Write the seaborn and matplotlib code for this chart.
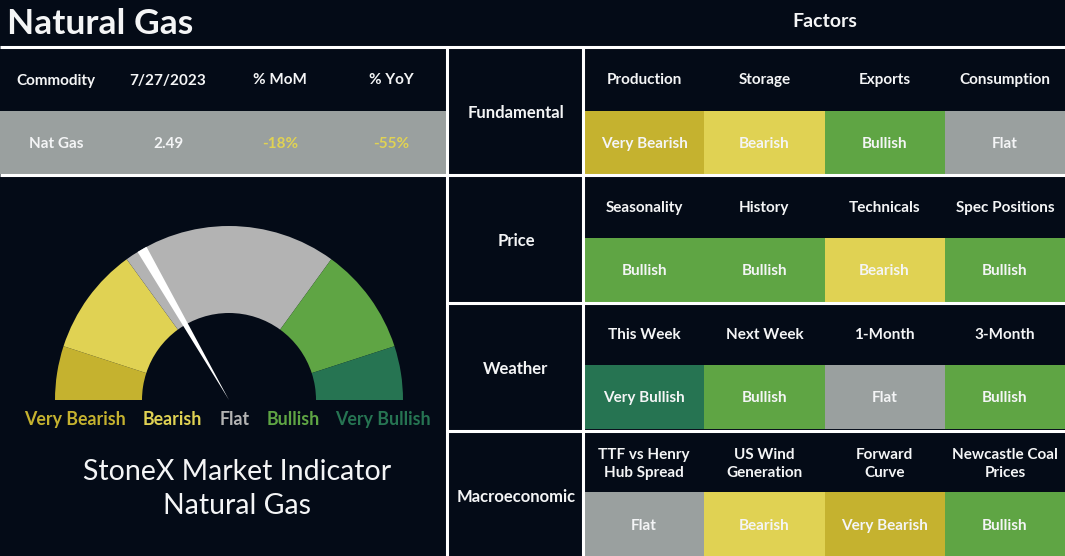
import numpy as np
import pandas as pd
import matplotlib
matplotlib.use("Agg")
import matplotlib.pyplot as plt
from matplotlib.colors import ListedColormap
from matplotlib.patches import Rectangle, Polygon
import seaborn as sns

# ---------------- data ----------------
title = "Natural Gas"
table_headers = ["Commodity", "7/27/2023", "% MoM", "% YoY"]
table_values = ["Nat Gas", "2.49", "-18%", "-55%"]

categories = ["Fundamental", "Price", "Weather", "Macroeconomic"]
factor_names = [
    ["Production", "Storage", "Exports", "Consumption"],
    ["Seasonality", "History", "Technicals", "Spec Positions"],
    ["This Week", "Next Week", "1-Month", "3-Month"],
    ["TTF vs Henry\nHub Spread", "US Wind\nGeneration", "Forward\nCurve", "Newcastle Coal\nPrices"],
]
factor_signals = [
    ["Very Bearish", "Bearish", "Bullish", "Flat"],
    ["Bullish", "Bullish", "Bearish", "Bullish"],
    ["Very Bullish", "Bullish", "Flat", "Bullish"],
    ["Flat", "Bearish", "Very Bearish", "Bullish"],
]
levels = ["Very Bearish", "Bearish", "Flat", "Bullish", "Very Bullish"]
gauge_sizes = [18, 36, 72, 36, 18]   # degrees of the half-circle per level
needle_deg = 60                       # needle position, degrees from the left end

# ---------------- style ----------------
BG = "#040b17"
WHITE = "#f4f5f6"
level_colors = ["#c5b22f", "#e0d253", "#9aa09f", "#5fa544", "#267452"]
gauge_colors = ["#c5b22f", "#e0d253", "#b3b3b3", "#5fa544", "#267452"]
label_colors = ["#c5b22f", "#e0d253", "#b3b3b3", "#5fa544", "#267452"]

sns.set_theme(style="dark", rc={"axes.facecolor": BG, "figure.facecolor": BG})
plt.rcParams["font.family"] = ["Lato", "DejaVu Sans"]

FS = 11.0      # cell text
FS_CAT = 12.0  # category labels

W, H = 1065, 556
fig = plt.figure(figsize=(W / 100, H / 100), dpi=100, facecolor=BG)

def px_axes(x0, y0, x1, y1):
    return fig.add_axes([x0 / W, (H - y1) / H, (x1 - x0) / W, (y1 - y0) / H])

# background axes
bg = px_axes(0, 0, W, H)
bg.set_xlim(0, W); bg.set_ylim(H, 0); bg.axis("off")
bg.set_facecolor(BG)
bg.add_patch(Rectangle((0, 0), W, H, color=BG, zorder=0))
# gray data row of the commodity table
bg.add_patch(Rectangle((0, 111), 447, 63, color=level_colors[2], lw=0, zorder=1))

# ---------------- gauge (pie) ----------------
cx, cy, R = 229, 400, 174
ag = px_axes(cx - R, cy - R, cx + R, cy + R)
ag.pie(gauge_sizes + [180], colors=gauge_colors + ["none"], startangle=180,
       counterclock=False, radius=1, wedgeprops=dict(width=0.5, linewidth=0))
ag.set_xlim(-1, 1); ag.set_ylim(-1, 1); ag.axis("off")
ag.patch.set_alpha(0)
theta = np.deg2rad(180 - needle_deg)
half = np.deg2rad(1.7)
ag.add_patch(Polygon([(0, 0), (np.cos(theta - half), np.sin(theta - half)),
                      (np.cos(theta + half), np.sin(theta + half))],
                     closed=True, color="white", lw=0, zorder=5))

# ---------------- factor heatmap ----------------
n_rows = 2 * len(categories)
codes = np.full((n_rows, 4), np.nan)
annot = np.full((n_rows, 4), "", dtype=object)
for i, row in enumerate(factor_signals):
    for j, s in enumerate(row):
        codes[2 * i + 1, j] = levels.index(s)
        annot[2 * i + 1, j] = s
df = pd.DataFrame(codes)
ah = px_axes(584, 47, W, H)
ah.set_facecolor(BG)
sns.heatmap(df, ax=ah, mask=df.isna(), cmap=ListedColormap(level_colors),
            vmin=-0.5, vmax=4.5, cbar=False, annot=annot, fmt="",
            annot_kws=dict(color=WHITE, fontsize=FS, fontweight="bold",
                           va="center_baseline"),
            xticklabels=False, yticklabels=False, linewidths=0)
ah.set_xlabel(""); ah.set_ylabel("")
for i, row in enumerate(factor_names):
    for j, name in enumerate(row):
        ah.text(j + 0.5, 2 * i + 0.5, name, ha="center", va="center_baseline",
                color=WHITE, fontsize=FS, fontweight="bold", linespacing=1.4)

# ---------------- overlay: lines + texts ----------------
ov = px_axes(0, 0, W, H)
ov.set_xlim(0, W); ov.set_ylim(H, 0); ov.axis("off")
ov.patch.set_alpha(0)
lw = 2.2
ov.hlines([47, 175], 0, W, color="white", lw=lw)
ov.hlines([303, 431], 447, W, color="white", lw=lw)
ov.vlines([447, 583], 47, H, color="white", lw=lw)

ov.text(7, 21, title, ha="left", va="center_baseline", color=WHITE, fontsize=25.5, fontweight="bold")
ov.text(825, 20, "Factors", ha="center", va="center_baseline", color=WHITE, fontsize=14, fontweight="bold")

col_x = [56, 168, 280, 391]
for k, (hdr, val) in enumerate(zip(table_headers, table_values)):
    ov.text(col_x[k], 79, hdr, ha="center", va="center_baseline", color=WHITE, fontsize=FS, fontweight="bold")
    c = level_colors[1] if val.startswith("-") else WHITE
    ov.text(col_x[k], 143, val, ha="center", va="center_baseline", color=c, fontsize=FS, fontweight="bold")

for i, cat in enumerate(categories):
    ov.text(516, 111 + 128 * i, cat, ha="center", va="center_baseline", color=WHITE,
            fontsize=FS_CAT, fontweight="bold")

lab_x = [75, 172, 235, 293, 383]
for k, lab in enumerate(levels):
    ov.text(lab_x[k], 418, lab, ha="center", va="center_baseline", color=label_colors[k],
            fontsize=12.8, fontweight="bold")

ov.text(237, 469, "StoneX Market Indicator", ha="center", va="center_baseline", color=WHITE, fontsize=20.5)
ov.text(237, 504, "Natural Gas", ha="center", va="center_baseline", color=WHITE, fontsize=20.5)

fig.savefig("out.png", dpi=100, facecolor=BG)
